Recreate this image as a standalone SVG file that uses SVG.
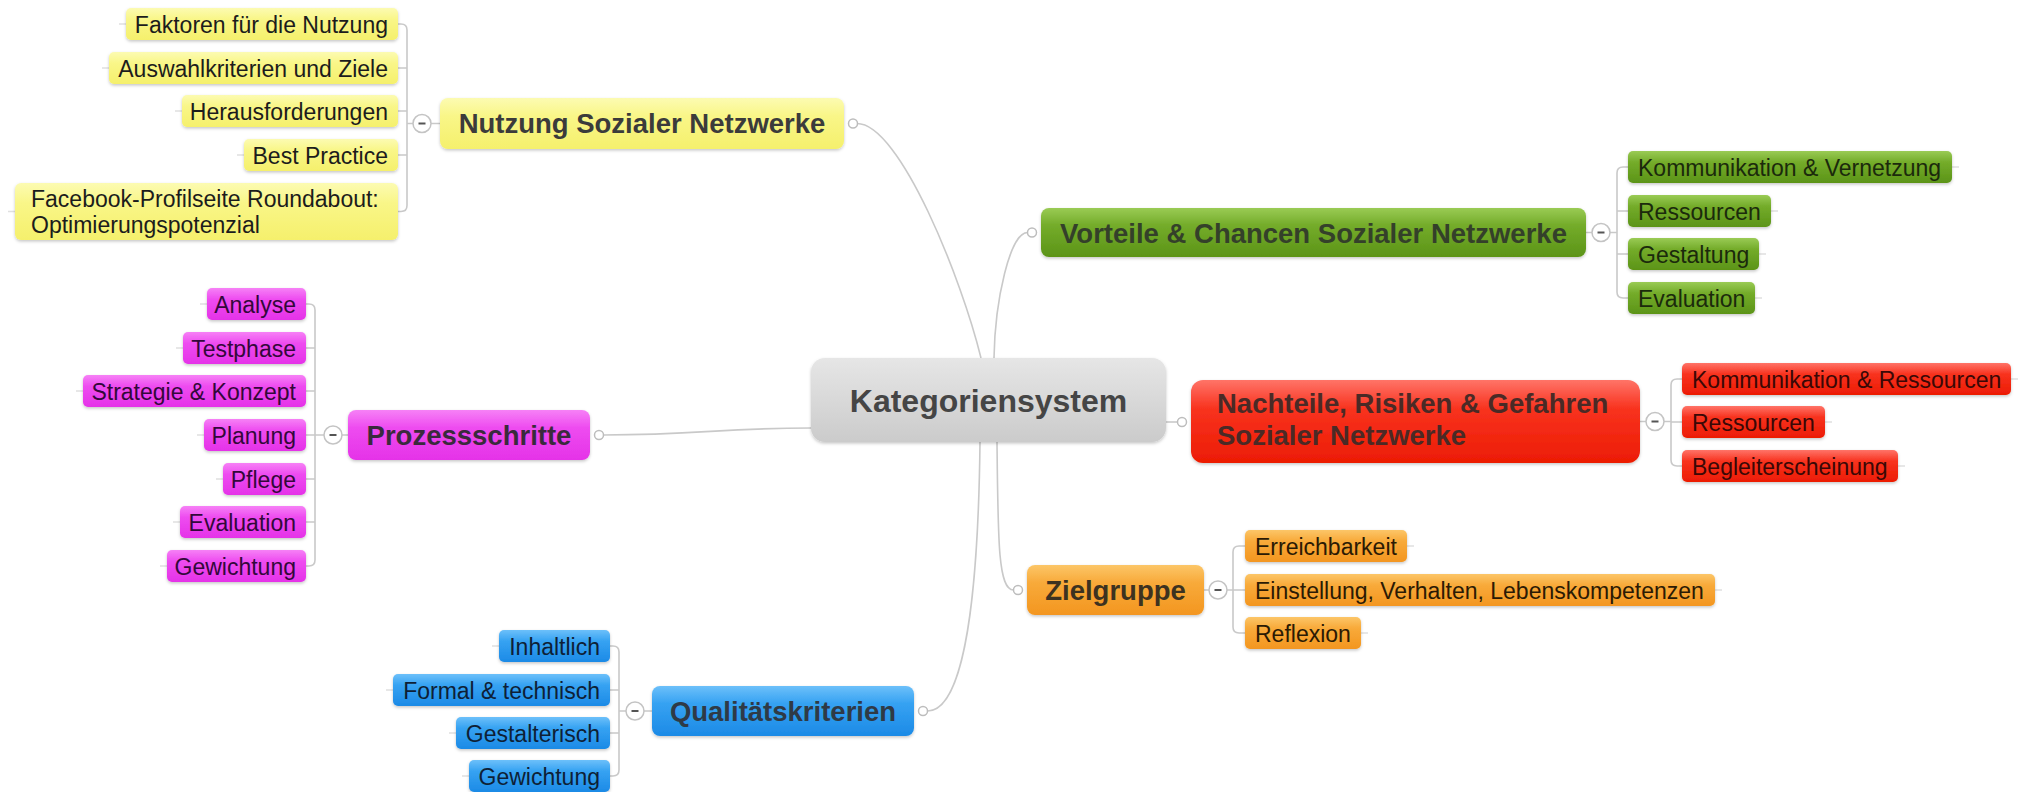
<svg xmlns="http://www.w3.org/2000/svg" width="2018" height="792" viewBox="0 0 2018 792">
  <defs>
    <linearGradient id="gY" x1="0" y1="0" x2="0" y2="1"><stop offset="0" stop-color="#fcfbb2"/><stop offset="0.35" stop-color="#f9f688"/><stop offset="1" stop-color="#f5f06c"/></linearGradient>
    <linearGradient id="gP" x1="0" y1="0" x2="0" y2="1"><stop offset="0" stop-color="#f681f6"/><stop offset="0.35" stop-color="#ee4cf0"/><stop offset="1" stop-color="#e532e8"/></linearGradient>
    <linearGradient id="gB" x1="0" y1="0" x2="0" y2="1"><stop offset="0" stop-color="#6cc0fa"/><stop offset="0.35" stop-color="#36a2f2"/><stop offset="1" stop-color="#1c8ae6"/></linearGradient>
    <linearGradient id="gG" x1="0" y1="0" x2="0" y2="1"><stop offset="0" stop-color="#9acb55"/><stop offset="0.35" stop-color="#74ac2a"/><stop offset="1" stop-color="#5c9418"/></linearGradient>
    <linearGradient id="gR" x1="0" y1="0" x2="0" y2="1"><stop offset="0" stop-color="#ff7468"/><stop offset="0.35" stop-color="#f8321e"/><stop offset="1" stop-color="#ec1c04"/></linearGradient>
    <linearGradient id="gO" x1="0" y1="0" x2="0" y2="1"><stop offset="0" stop-color="#fcc668"/><stop offset="0.35" stop-color="#f8aa3a"/><stop offset="1" stop-color="#f39620"/></linearGradient>
    <linearGradient id="gC" x1="0" y1="0" x2="0" y2="1"><stop offset="0" stop-color="#e6e6e6"/><stop offset="1" stop-color="#cbcbcb"/></linearGradient>
    <filter id="sh" x="-10%" y="-30%" width="120%" height="170%">
      <feDropShadow dx="0" dy="1.5" stdDeviation="1.5" flood-color="#000" flood-opacity="0.22"/>
    </filter>
  </defs>
  <style>
    text{font-family:"Liberation Sans",Arial,Helvetica,sans-serif}
    .box{filter:url(#sh)}
    .sub{font-size:23px}
    .main{font-size:27.5px;font-weight:bold;fill:#3b3b3b;text-anchor:middle}
    .end{text-anchor:end}
    .line{fill:none;stroke:#c9c9c9;stroke-width:1.6}
    .stub{fill:none;stroke:#e0e0e0;stroke-width:1.5}
    .col{fill:#fff;stroke:#c4c4c4;stroke-width:1.5}
    .dash{stroke:#555;stroke-width:2}
    .knob{fill:#fff;stroke:#bdbdbd;stroke-width:1.5}
    .y{fill:url(#gY)} .p{fill:url(#gP)} .b{fill:url(#gB)} .g{fill:url(#gG)} .r{fill:url(#gR)} .o{fill:url(#gO)}
    .ty{fill:#1c1c1c} .tp{fill:#33083a} .tb{fill:#0e1f36} .tg{fill:#1b2a0c} .tr{fill:#3a0806} .to{fill:#2b1a04}
  </style>
  <rect width="2018" height="792" fill="#fff"/>

  <g id="connectors">
    <!-- central topic to main topics -->
    <path class="line" d="M857,123.5 C900,123.5 962,280 981,358"/>
    <path class="line" d="M1027.5,232.5 C1010,232.5 995,300 994,358"/>
    <path class="line" d="M603.5,435 C700,435 720,428 811,428"/>
    <path class="line" d="M1166,422 H1177.5"/>
    <path class="line" d="M997,442 C998,540 998,590 1013.5,590"/>
    <path class="line" d="M980,442 C978,620 960,711 927.5,711"/>
    <!-- brackets: Nutzung -->
    <path class="line" d="M398,24 H401 Q407,24 407,30 V205.5 Q407,211.5 401,211.5 H398 M398,68 H407 M398,111 H407 M398,155 H407 M407,123.5 H413 M431,123.5 H440"/>
    <!-- brackets: Prozessschritte -->
    <path class="line" d="M306,304 H309 Q315,304 315,310 V560 Q315,566 309,566 H306 M306,348 H315 M306,391 H315 M306,435 H315 M306,479 H315 M306,522 H315 M315,435 H324 M342,435 H348"/>
    <!-- brackets: Qualitätskriterien -->
    <path class="line" d="M610,646 H613 Q619,646 619,652 V770 Q619,776 613,776 H610 M610,690 H619 M610,733 H619 M619,711 H626 M644,711 H652"/>
    <!-- brackets: Vorteile -->
    <path class="line" d="M1628,167 H1623 Q1617,167 1617,173 V292 Q1617,298 1623,298 H1628 M1628,211 H1617 M1628,254 H1617 M1586,232.5 H1592 M1610,232.5 H1617"/>
    <!-- brackets: Nachteile -->
    <path class="line" d="M1682,379 H1677 Q1671,379 1671,385 V460 Q1671,466 1677,466 H1682 M1682,422 H1671 M1640,421.5 H1646 M1664,421.5 H1671"/>
    <!-- brackets: Zielgruppe -->
    <path class="line" d="M1245,546 H1239 Q1233,546 1233,552 V627 Q1233,633 1239,633 H1245 M1245,590 H1233 M1204,590 H1209 M1227,590 H1233"/>
    <!-- outer stubs of the leaf topics -->
    <path class="stub" d="M126,24 h-7 M109,68 h-7 M182,111 h-7 M244,155 h-7 M15,211.5 h-7
      M207,304 h-7 M183,348 h-7 M83,391 h-7 M204,435 h-7 M223,479 h-7 M180,522 h-7 M167,566 h-7
      M499,646 h-7 M393,690 h-7 M456,733 h-7 M469,776 h-7
      M1952,167 h7 M1771,211 h7 M1759,254 h7 M1755,298 h7
      M2011,379 h7 M1825,422 h7 M1898,466 h7
      M1407,546 h7 M1715,590 h7 M1361,633 h7"/>
  </g>

  <g id="node-central">
    <rect class="box" x="811" y="358" width="355" height="84" rx="14" fill="url(#gC)"/>
    <text x="988.5" y="412" style="font-size:32px;font-weight:bold;fill:#454545;text-anchor:middle">Kategoriensystem</text>
  </g>

  <g id="node-nutzung">
    <rect class="box y" x="440" y="98" width="404" height="51" rx="8"/>
    <text class="main" x="642" y="133">Nutzung Sozialer Netzwerke</text>
    <circle class="knob" cx="853" cy="123.5" r="4.5"/>
    <circle class="col" cx="422" cy="123.5" r="9"/><line class="dash" x1="418.5" y1="123.5" x2="425.5" y2="123.5"/>
  </g>
  <g id="node-faktoren"><rect class="box y" x="126" y="8" width="272" height="32" rx="5"/><text class="sub end ty" x="388" y="32.5">Faktoren für die Nutzung</text></g>
  <g id="node-auswahl"><rect class="box y" x="109" y="52" width="289" height="32" rx="5"/><text class="sub end ty" x="388" y="76.5">Auswahlkriterien und Ziele</text></g>
  <g id="node-heraus"><rect class="box y" x="182" y="95" width="216" height="32" rx="5"/><text class="sub end ty" x="388" y="119.5">Herausforderungen</text></g>
  <g id="node-best"><rect class="box y" x="244" y="139" width="154" height="32" rx="5"/><text class="sub end ty" x="388" y="163.5">Best Practice</text></g>
  <g id="node-facebook"><rect class="box y" x="15" y="183" width="383" height="57" rx="6"/>
    <text class="sub ty" x="31" y="207">Facebook-Profilseite Roundabout:</text>
    <text class="sub ty" x="31" y="233">Optimierungspotenzial</text></g>

  <g id="node-prozess">
    <rect class="box p" x="348" y="410" width="242" height="50" rx="8"/>
    <text class="main" x="469" y="445" style="fill:#3a2a3c">Prozessschritte</text>
    <circle class="knob" cx="599" cy="435" r="4.5"/>
    <circle class="col" cx="333" cy="435" r="9"/><line class="dash" x1="329.5" y1="435" x2="336.5" y2="435"/>
  </g>
  <g id="node-analyse"><rect class="box p" x="207" y="288" width="99" height="32" rx="5"/><text class="sub end tp" x="296" y="312.5">Analyse</text></g>
  <g id="node-testphase"><rect class="box p" x="183" y="332" width="123" height="32" rx="5"/><text class="sub end tp" x="296" y="356.5">Testphase</text></g>
  <g id="node-strategie"><rect class="box p" x="83" y="375" width="223" height="32" rx="5"/><text class="sub end tp" x="296" y="399.5">Strategie &amp; Konzept</text></g>
  <g id="node-planung"><rect class="box p" x="204" y="419" width="102" height="32" rx="5"/><text class="sub end tp" x="296" y="443.5">Planung</text></g>
  <g id="node-pflege"><rect class="box p" x="223" y="463" width="83" height="32" rx="5"/><text class="sub end tp" x="296" y="487.5">Pflege</text></g>
  <g id="node-evaluation-p"><rect class="box p" x="180" y="506" width="126" height="32" rx="5"/><text class="sub end tp" x="296" y="530.5">Evaluation</text></g>
  <g id="node-gewichtung-p"><rect class="box p" x="167" y="550" width="139" height="32" rx="5"/><text class="sub end tp" x="296" y="574.5">Gewichtung</text></g>

  <g id="node-qualitaet">
    <rect class="box b" x="652" y="686" width="262" height="50" rx="8"/>
    <text class="main" x="783" y="721" style="fill:#2f3a46">Qualitätskriterien</text>
    <circle class="knob" cx="923" cy="711" r="4.5"/>
    <circle class="col" cx="635" cy="711" r="9"/><line class="dash" x1="631.5" y1="711" x2="638.5" y2="711"/>
  </g>
  <g id="node-inhaltlich"><rect class="box b" x="499" y="630" width="111" height="32" rx="5"/><text class="sub end tb" x="600" y="654.5">Inhaltlich</text></g>
  <g id="node-formal"><rect class="box b" x="393" y="674" width="217" height="32" rx="5"/><text class="sub end tb" x="600" y="698.5">Formal &amp; technisch</text></g>
  <g id="node-gestalterisch"><rect class="box b" x="456" y="717" width="154" height="32" rx="5"/><text class="sub end tb" x="600" y="741.5">Gestalterisch</text></g>
  <g id="node-gewichtung-b"><rect class="box b" x="469" y="760" width="141" height="32" rx="5"/><text class="sub end tb" x="600" y="784.5">Gewichtung</text></g>

  <g id="node-vorteile">
    <rect class="box g" x="1041" y="208" width="545" height="49" rx="8"/>
    <text class="main" x="1313.5" y="242.5" style="fill:#34402a">Vorteile &amp; Chancen Sozialer Netzwerke</text>
    <circle class="knob" cx="1032" cy="232.5" r="4.5"/>
    <circle class="col" cx="1601" cy="232.5" r="9"/><line class="dash" x1="1597.5" y1="232.5" x2="1604.5" y2="232.5"/>
  </g>
  <g id="node-kommunikation-g"><rect class="box g" x="1628" y="151" width="324" height="32" rx="5"/><text class="sub tg" x="1638" y="175.5">Kommunikation &amp; Vernetzung</text></g>
  <g id="node-ressourcen-g"><rect class="box g" x="1628" y="195" width="143" height="32" rx="5"/><text class="sub tg" x="1638" y="219.5">Ressourcen</text></g>
  <g id="node-gestaltung"><rect class="box g" x="1628" y="238" width="131" height="32" rx="5"/><text class="sub tg" x="1638" y="262.5">Gestaltung</text></g>
  <g id="node-evaluation-g"><rect class="box g" x="1628" y="282" width="127" height="32" rx="5"/><text class="sub tg" x="1638" y="306.5">Evaluation</text></g>

  <g id="node-nachteile">
    <rect class="box r" x="1191" y="380" width="449" height="83" rx="12"/>
    <text class="main" x="1217" y="413" style="text-anchor:start;fill:#4a2a26">Nachteile, Risiken &amp; Gefahren</text>
    <text class="main" x="1217" y="445" style="text-anchor:start;fill:#4a2a26">Sozialer Netzwerke</text>
    <circle class="knob" cx="1182" cy="422" r="4.5"/>
    <circle class="col" cx="1655" cy="421.5" r="9"/><line class="dash" x1="1651.5" y1="421.5" x2="1658.5" y2="421.5"/>
  </g>
  <g id="node-kommunikation-r"><rect class="box r" x="1682" y="363" width="329" height="32" rx="5"/><text class="sub tr" x="1692" y="387.5">Kommunikation &amp; Ressourcen</text></g>
  <g id="node-ressourcen-r"><rect class="box r" x="1682" y="406" width="143" height="32" rx="5"/><text class="sub tr" x="1692" y="430.5">Ressourcen</text></g>
  <g id="node-begleit"><rect class="box r" x="1682" y="450" width="216" height="32" rx="5"/><text class="sub tr" x="1692" y="474.5">Begleiterscheinung</text></g>

  <g id="node-zielgruppe">
    <rect class="box o" x="1027" y="565" width="177" height="50" rx="8"/>
    <text class="main" x="1115.5" y="600" style="fill:#3d3220">Zielgruppe</text>
    <circle class="knob" cx="1018" cy="590" r="4.5"/>
    <circle class="col" cx="1218" cy="590" r="9"/><line class="dash" x1="1214.5" y1="590" x2="1221.5" y2="590"/>
  </g>
  <g id="node-erreichbarkeit"><rect class="box o" x="1245" y="530" width="162" height="32" rx="5"/><text class="sub to" x="1255" y="554.5">Erreichbarkeit</text></g>
  <g id="node-einstellung"><rect class="box o" x="1245" y="574" width="470" height="32" rx="5"/><text class="sub to" x="1255" y="598.5">Einstellung, Verhalten, Lebenskompetenzen</text></g>
  <g id="node-reflexion"><rect class="box o" x="1245" y="617" width="116" height="32" rx="5"/><text class="sub to" x="1255" y="641.5">Reflexion</text></g>
</svg>
